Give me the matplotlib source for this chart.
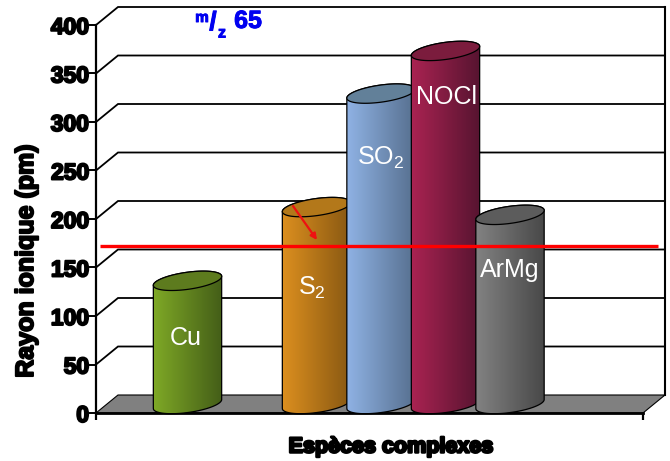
import numpy as np
import matplotlib
matplotlib.use("Agg")
import matplotlib.pyplot as plt
import matplotlib.patheffects as pe
from matplotlib.colors import LinearSegmentedColormap
from matplotlib.patches import PathPatch, Polygon
from matplotlib.path import Path

plt.rcParams['font.family'] = ['Liberation Sans', 'DejaVu Sans']
plt.rcParams['mathtext.fontset'] = 'custom'
plt.rcParams['mathtext.rm'] = 'Liberation Sans'
plt.rcParams['mathtext.default'] = 'rm'

especes = ['Cu', 'S$_2$', 'SO$_2$', 'NOCl', 'ArMg']
rayons = [127, 203, 320, 364, 195]
seuil = 172
yticks = [0, 50, 100, 150, 200, 250, 300, 350, 400]

# where each bar sits along the axis, there is a gap after Cu
slots = [0, 2, 3, 4, 5]
label_y = [77, 129, 263, 326, 147]
label_dx = [-2, -5, 0, 1, 0]
colors_left = ['#7fa926', '#dc8f1f', '#8fb2e4', '#aa2352', '#828282']
colors_right = ['#445e18', '#885812', '#566f8e', '#571430', '#484848']
colors_top = ['#5d7b1e', '#b3781a', '#628099', '#7b1c3d', '#5c5c5c']

W, H = 670, 461
X0, X1, Y0, Y1 = 96, 643, 413, 25
SLOT = 64.5    # px per slot
PM = 0.97      # px per pm
DX, DY = 22, 18  # depth of the 3d box in px

fig = plt.figure(figsize=(W / 100, H / 100), dpi=100)
ax = fig.add_axes([X0 / W, (H - Y0) / H, (X1 - X0) / W, (Y0 - Y1) / H])
xmin = -(187.5 - X0) / SLOT
xmax = xmin + (X1 - X0) / SLOT
ax.set_xlim(xmin, xmax)
ax.set_ylim(0, 400)


def to_x(px):
    return xmin + (px - X0) / SLOT


def to_y(py):
    return (Y0 - py) / PM


ddx = DX / SLOT
ddy = DY / PM

# floor
ax.add_patch(Polygon([(xmin, 0), (xmax, 0), (xmax + ddx, ddy), (xmin + ddx, ddy)],
                     closed=True, fc='#808080', ec='black', lw=0.8,
                     clip_on=False, zorder=1))

# back wall lines
for v in yticks[1:]:
    ax.plot([xmin, xmin + ddx, xmax + ddx], [v, v + ddy, v + ddy], color='black',
            lw=1.3, clip_on=False, zorder=1, solid_joinstyle='miter')
ax.plot([xmax + ddx, xmax + ddx], [ddy, 400 + ddy], color='black', lw=1.5,
        clip_on=False, zorder=1)


def ellipse_pts(t, a=34.5, b=8.5, tilt=8):
    th = np.radians(tilt)
    ex = a * np.cos(t) * np.cos(th) - b * np.sin(t) * np.sin(th)
    ey = a * np.cos(t) * np.sin(th) + b * np.sin(t) * np.cos(th)
    return ex / SLOT, ey / PM


base = 9 / PM
grad = np.linspace(0, 1, 128).reshape(1, -1)
for i in range(len(rayons)):
    x = slots[i]
    top = rayons[i] + base
    z = 3 + i

    bx, by = ellipse_pts(np.linspace(np.pi, 2 * np.pi, 60))
    tx, ty = ellipse_pts(np.linspace(0, np.pi, 60))
    verts = np.vstack([np.c_[x + bx, base + by], np.c_[x + tx, top + ty],
                       [[x + bx[0], base + by[0]]]])
    body = PathPatch(Path(verts), fc='none', ec='black', lw=0.9, clip_on=False, zorder=z + 0.2)
    ax.add_patch(body)

    cmap = LinearSegmentedColormap.from_list('c', [colors_left[i], colors_right[i]])
    im = ax.imshow(grad, cmap=cmap, aspect='auto', zorder=z, interpolation='bilinear',
                   extent=[x + bx.min(), x + bx.max(), 0, top + 12])
    clip = PathPatch(Path(verts), transform=ax.transData, fc='none', ec='none')
    ax.add_patch(clip)
    im.set_clip_path(clip)

    ex, ey = ellipse_pts(np.linspace(0, 2 * np.pi, 120))
    ax.add_patch(Polygon(np.c_[x + ex, top + ey], closed=True, fc=colors_top[i], ec='black',
                         lw=0.9, clip_on=False, zorder=z + 0.3))
    ax.text(x + label_dx[i] / SLOT, label_y[i], especes[i], color='white', fontsize=18,
            ha='center', va='center', zorder=20)

ax.set_xlim(xmin, xmax)
ax.set_ylim(0, 400)

# red reference line and arrow
ax.plot([to_x(100), to_x(658)], [seuil, seuil], color='#ff0000', lw=2.4, clip_on=False,
        zorder=15, solid_capstyle='butt')
ax.annotate('', xy=(to_x(317), to_y(240)), xytext=(to_x(293), to_y(206)), zorder=16,
            arrowprops=dict(arrowstyle='-|>', color='#ee1111', lw=1.6, mutation_scale=9,
                            shrinkA=0, shrinkB=0))

for side in ['top', 'right']:
    ax.spines[side].set_visible(False)
ax.spines['left'].set_linewidth(1.6)
ax.spines['bottom'].set_linewidth(2)
ax.spines['bottom'].set_zorder(2)
ax.set_facecolor('none')

heavy = [pe.withStroke(linewidth=1.4, foreground='black')]

ax.set_yticks(yticks)
ax.set_yticklabels([str(v) for v in yticks], fontweight='bold', fontsize=16.5,
                   path_effects=heavy)
ax.set_xticks([xmin, xmax])
ax.set_xticklabels([])
ax.tick_params(axis='y', length=5, width=1.4, pad=0)
ax.tick_params(axis='x', length=5, width=1.6, pad=0)

fig.text(26 / W, 1 - 261 / H, 'Rayon ionique (pm)', rotation=90, ha='center', va='center',
         fontweight='bold', fontsize=18, path_effects=heavy)
fig.text(391 / W, 1 - 447 / H, 'Espèces complexes', ha='center', va='center',
         fontweight='bold', fontsize=15.5, color='black',
         path_effects=[pe.withStroke(linewidth=1.8, foreground='black')])

# m/z 65, built from pieces
blue = '#0000f0'
thick = [pe.withStroke(linewidth=0.7, foreground=blue)]
fig.text(202 / W, 1 - 18 / H, 'm', color=blue, fontweight='bold', fontsize=11, ha='center',
         va='center', path_effects=thick)
fig.text(213 / W, 1 - 23 / H, '/', color=blue, fontweight='bold', fontsize=19, ha='center',
         va='center', path_effects=thick)
fig.text(222 / W, 1 - 33 / H, 'z', color=blue, fontweight='bold', fontsize=11.5, ha='center',
         va='center', path_effects=thick)
fig.text(248 / W, 1 - 21 / H, '65', color=blue, fontweight='bold', fontsize=18, ha='center',
         va='center', path_effects=thick)

fig.savefig('out.png', dpi=100)
